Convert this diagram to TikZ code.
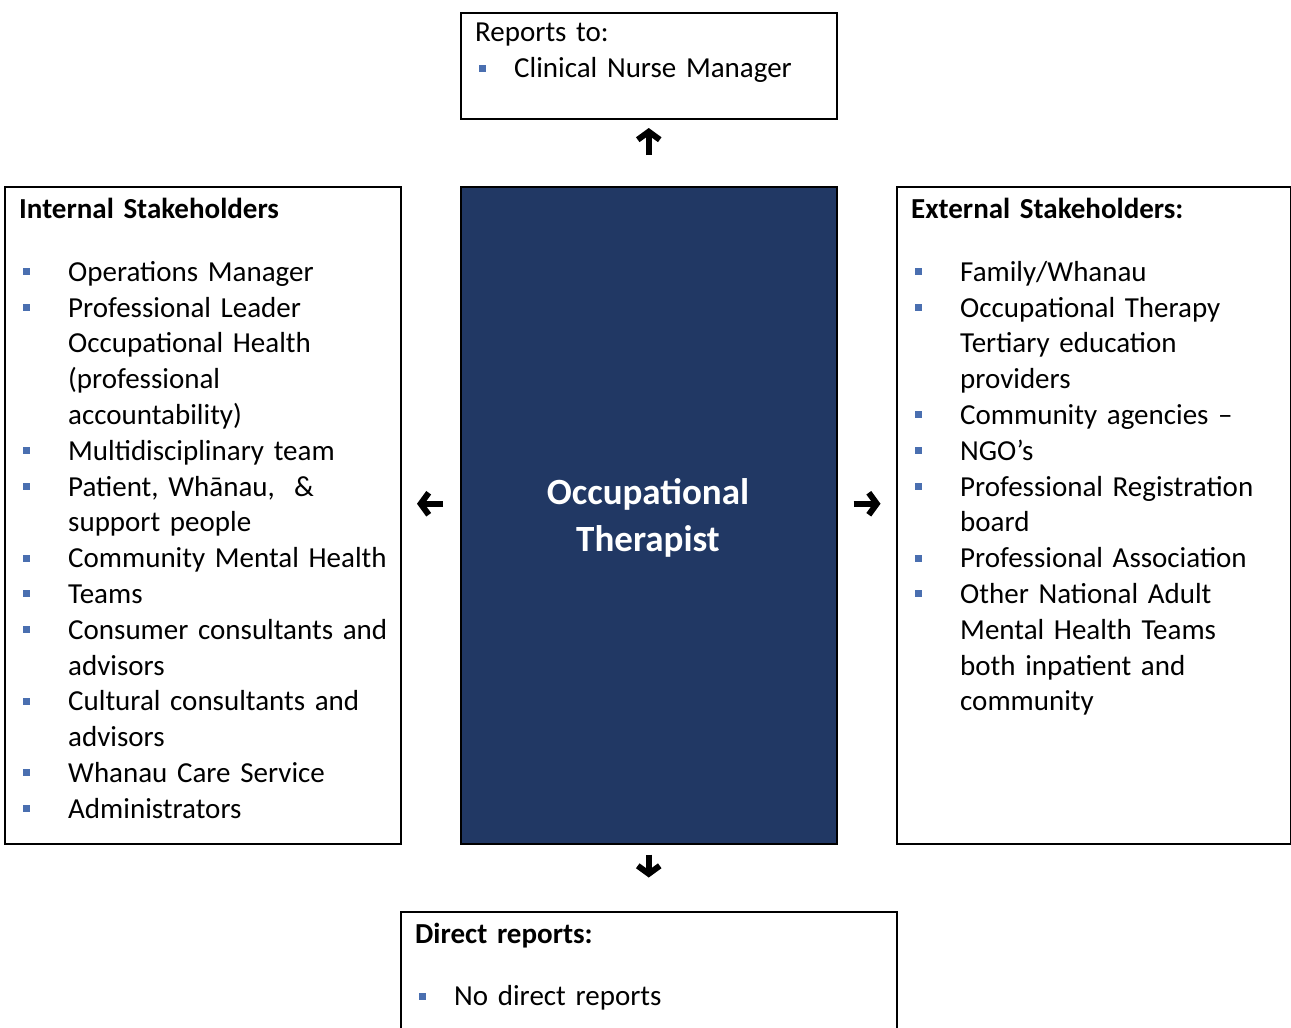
\documentclass[tikz,border=0pt]{standalone}
\usepackage{fontspec}
\setmainfont{Carlito}
\usetikzlibrary{arrows.meta}
\definecolor{navybox}{HTML}{213864}
\definecolor{bulletblue}{HTML}{4A6FB0}
\newcommand{\bitem}[2]{\makebox[#1][l]{\hspace*{3.5pt}\textcolor{bulletblue}{\rule[6pt]{7pt}{7pt}}}#2}
\newcommand{\citem}[2]{\hspace*{#1}#2}

\begin{document}
\begin{tikzpicture}[x=1pt,y=-1pt,
    box/.style={draw,line width=1.5pt,inner sep=0pt,anchor=north west},
    txt/.style={anchor=north west,inner sep=0pt,text width=#1,align=left,
      font=\fontsize{29}{35.8}\selectfont},
    arr/.style={line width=6pt,-{Straight Barb[length=8pt,width=22pt]}}]
    \useasboundingbox (0,0) rectangle (1291,1028);
    %\draw[lightgray] (0,0) grid[step=100] (1291,1028);

    % boxes
    \node[box,minimum width=376pt,minimum height=106pt] (reports) at (460,12) {};
    \node[box,minimum width=396pt,minimum height=657pt] (internal) at (4,186) {};
    \node[box,fill=navybox,minimum width=376pt,minimum height=657pt] (opther) at (460,186) {};
    \node[box,minimum width=394pt,minimum height=657pt] (external) at (896,186) {};
    \node[box,minimum width=496pt,minimum height=160pt] (direct) at (400,911) {};

    % texts
    \node[txt=360pt] (reportstxt) at (475,16.7) {\rule{0pt}{25pt}Reports to:\\
        \bitem{39pt}{Clinical Nurse Manager}};
    \node[txt=385pt] (internaltxt) at (19,193) {\rule{0pt}{25pt}\textbf{Internal Stakeholders}\\[27.2pt]
        \bitem{49pt}{Operations Manager}\\
        \bitem{49pt}{Professional Leader}\\
        \citem{49pt}{Occupational Health}\\
        \citem{49pt}{(professional}\\
        \citem{49pt}{accountability)}\\
        \bitem{49pt}{Multidisciplinary team}\\
        \bitem{49pt}{Patient, Whānau, \ \&}\\
        \citem{49pt}{support people}\\
        \bitem{49pt}{Community Mental Health}\\
        \bitem{49pt}{Teams}\\
        \bitem{49pt}{Consumer consultants and}\\
        \citem{49pt}{advisors}\\
        \bitem{49pt}{Cultural consultants and}\\
        \citem{49pt}{advisors}\\
        \bitem{49pt}{Whanau Care Service}\\
        \bitem{49pt}{Administrators}};
    \node[txt=380pt] (externaltxt) at (911,193) {\rule{0pt}{25pt}\textbf{External Stakeholders:}\\[27.2pt]
        \bitem{49pt}{Family/Whanau}\\
        \bitem{49pt}{Occupational Therapy}\\
        \citem{49pt}{Tertiary education}\\
        \citem{49pt}{providers}\\
        \bitem{49pt}{Community agencies –}\\
        \bitem{49pt}{NGO’s}\\
        \bitem{49pt}{Professional Registration}\\
        \citem{49pt}{board}\\
        \bitem{49pt}{Professional Association}\\
        \bitem{49pt}{Other National Adult}\\
        \citem{49pt}{Mental Health Teams}\\
        \citem{49pt}{both inpatient and}\\
        \citem{49pt}{community}};
    \node[txt=480pt] (directtxt) at (415,918) {\rule{0pt}{25pt}\textbf{Direct reports:}\\[26.9pt]
        \bitem{39pt}{No direct reports}};
    \node[anchor=north,inner sep=0pt,align=center,text=white,
        font=\bfseries\fontsize{37}{47}\selectfont] (optitle) at (648,474)
        {\rule{0pt}{30pt}Occupational\\Therapist};

    % arrows
    \draw[arr] ([yshift=31pt]opther.north) -- ([yshift=58pt]opther.north);
    \draw[arr] ([yshift=-10pt]opther.south) -- ([yshift=-33pt]opther.south);
    \draw[arr] ([xshift=-17pt,yshift=11.5pt]opther.west) -- ([xshift=-43pt,yshift=11.5pt]opther.west);
    \draw[arr] ([xshift=16pt,yshift=11.5pt]opther.east) -- ([xshift=43pt,yshift=11.5pt]opther.east);
\end{tikzpicture}
\end{document}
